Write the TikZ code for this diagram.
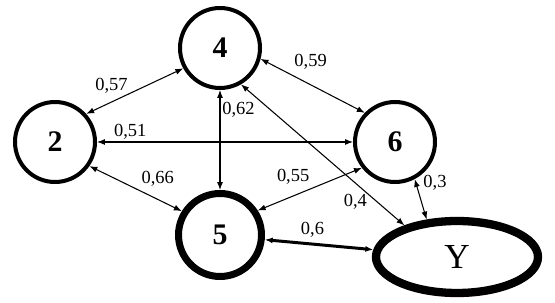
\documentclass[tikz,border=0pt]{standalone}
\usepackage{fontspec}
\setmainfont{Liberation Serif}
\usetikzlibrary{arrows.meta, shapes.geometric}
\tikzset{
    netdiagram/.style={>={Latex[length=4.5pt, width=3.4pt]}, line width=0.6pt},
    var/.style={draw, circle, line width=0.08cm, minimum size=1.6cm, inner sep=0pt, font=\fontsize{17}{17}\selectfont\bfseries},
    keyvar/.style={var, line width=0.14cm, minimum size=1.66cm},
    target/.style={draw, ellipse, line width=0.166cm, minimum width=3.24cm, minimum height=1.44cm, inner sep=0pt, font=\fontsize{20}{20}\selectfont},
    link/.style={<->},
    strong/.style={<->, line width=1.7pt},
    % weight printed next to a link
    w/.style={font=\fontsize{10.5}{10.5}\selectfont, inner sep=1pt},
}
\begin{document}
\begin{tikzpicture}[netdiagram]
    \useasboundingbox (0,0) rectangle (11.1,6.06);
    \node[var]    (x4) at (4.40,5.10) {4};
    \node[var]    (x2) at (1.10,3.22) {2};
    \node[var]    (x6) at (7.90,3.22) {6};
    \node[keyvar] (x5) at (4.40,1.36) {5};
    \node[target] (y)  at (9.14,0.92) {Y};

    \draw[link] (x2.42) -- node[w, pos=0.26, above=3.5pt] {0,57} (x4.209);
    \draw[link] (x2.east) -- node[w, pos=0.13, above=0pt] {0,51} (x6.west);
    \draw[link] (x4.south) -- node[w, pos=0.2, right=0pt] {0,62} (x5.north);
    \draw[link] (x4.345) -- node[w, pos=0.48, above=7.5pt] {0,59} (x6.136);
    \draw[link] (x2.325) -- node[w, pos=0.74, above=6pt] {0,66} (x5.148);
    \draw[link] (x5.33) -- node[w, pos=0.34, above=5.5pt] {0,55} (x6.218);
    \draw[link] (x4.300) -- node[w, pos=0.7, below=5pt] {0,4} (y.149);
    \draw[link] (x6.298) -- node[w, pos=0.1, right=3pt] {0,3} (y.129);
    \draw[strong] (x5.354) -- node[w, pos=0.44, above=2pt] {0,6} (y.175);
\end{tikzpicture}
\end{document}
